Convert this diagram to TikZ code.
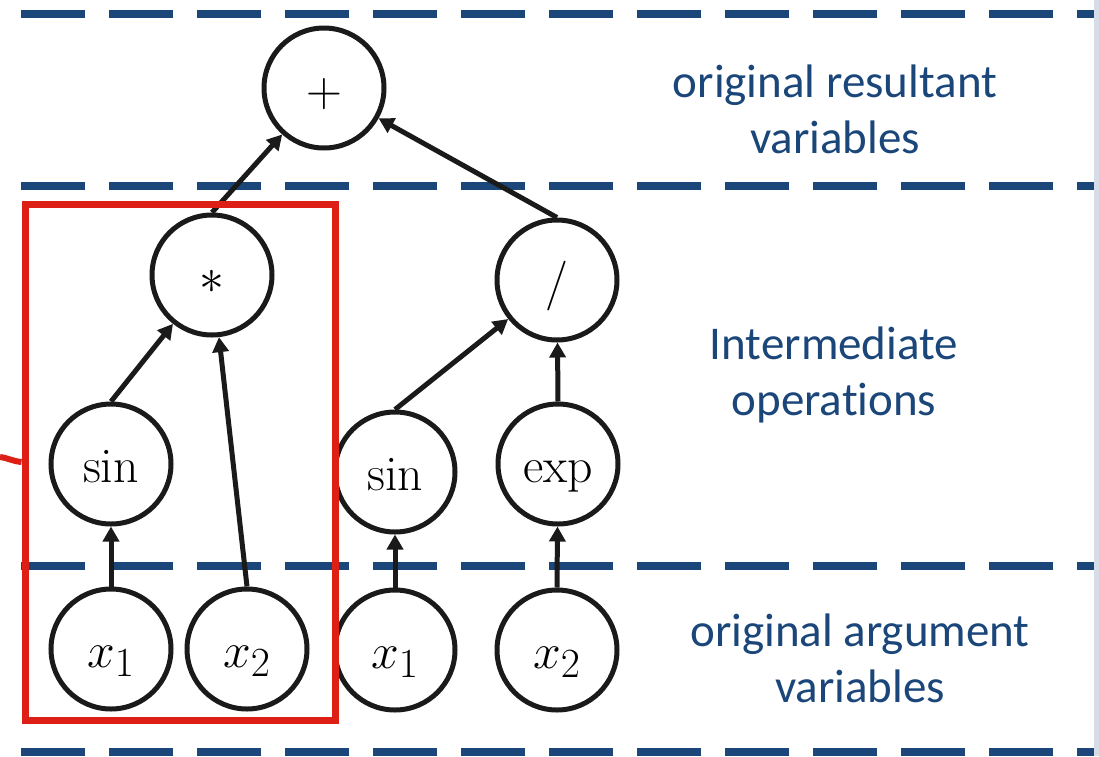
\documentclass[tikz,border=0pt]{standalone}
\usepackage{fontspec}
\newfontfamily\labelfont[Ligatures={NoCommon,NoContextual}]{Carlito}
\usetikzlibrary{arrows.meta, positioning, fit}
\definecolor{lineBlue}{HTML}{1B4679}
\definecolor{boxRed}{HTML}{DD1F16}
\definecolor{inkBlack}{HTML}{1A1A1A}
\definecolor{edgeGrey}{HTML}{D7DDE6}

\tikzset{
  opnode/.style={circle, draw=inkBlack, line width=2.5pt, fill=white,
    minimum size=60pt, inner sep=0pt, text height=20pt, text depth=2pt,
    font=\fontsize{24.88}{30}\selectfont},
  arr/.style={draw=inkBlack, line width=2.5pt, -{Triangle[length=7.5pt,width=8pt]}},
  levelline/.style={draw=lineBlue, line width=4pt, dash pattern=on 32pt off 12pt},
  levellabel/.style={font=\labelfont\fontsize{23.5}{28}\selectfont,
    text=lineBlue, align=center, anchor=base},
}

\begin{document}
\begin{tikzpicture}[x=0.5pt, y=-0.5pt]
  \useasboundingbox (0,0) rectangle (1099,756);
  % level separators
  \foreach \y in {14,186,566,752}
    \draw[levelline] (21,\y) -- (1094,\y);

  % expression tree
  \node[opnode] (plus) at (324,88) {$+$};
  \node[opnode] (mult) at (212,275) {$\ast$};
  \node[opnode] (divi) at (557,280) {/};
  \node[opnode] (sinA) at (111,464) {sin};
  \node[opnode] (sinB) at (395,472) {sin};
  \node[opnode] (expB) at (558,464) {exp};
  \node[opnode] (xa) at (111,649) {$x_1$};
  \node[opnode] (xb) at (247,649) {$x_2$};
  \node[opnode] (xc) at (395,650) {$x_1$};
  \node[opnode] (xd) at (557,650) {$x_2$};

  \draw[arr] (mult.north) -- (plus);
  \draw[arr] (divi.north) -- (plus);
  \draw[arr] (sinA.north) -- (mult);
  \draw[arr] (xb.north) -- (mult);
  \draw[arr] (sinB.north) -- (divi);
  \draw[arr] (expB.north) -- (divi);
  \draw[arr] (xa.north) -- (sinA);
  \draw[arr] (xc.north) -- (sinB);
  \draw[arr] (xd.north) -- (expB);

  % level names (base = last line)
  \node[levellabel] (resLabel) at (835,153) {original resultant\\variables};
  \node[levellabel] (midLabel) at (834,415) {Intermediate\\operations};
  \node[levellabel] (argLabel) at (860,702) {original argument\\variables};

  % highlighted subtree
  \node[draw=boxRed, line width=3.5pt, minimum width=155pt, minimum height=258pt,
        inner sep=0pt] (group) at (180,462) {};
  \coordinate (tail) at (0,457);
  \draw[boxRed, line width=3pt] (tail) to[out=-8, in=175] (group.west);

  \fill[edgeGrey] (1094,0) rectangle (1099,756);
\end{tikzpicture}
\end{document}
